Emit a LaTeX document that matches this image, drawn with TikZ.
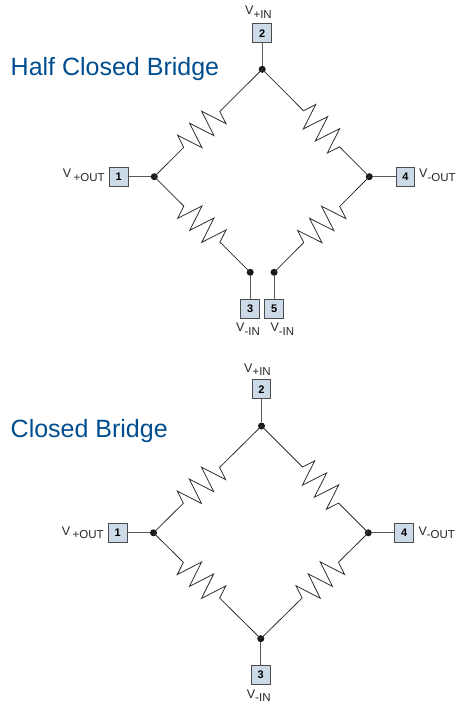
\documentclass[tikz,border=0pt]{standalone}
\usepackage{fontspec}
\setmainfont{Liberation Sans}
\usetikzlibrary{decorations.pathmorphing}
\definecolor{titleblue}{HTML}{004E8F}
\definecolor{boxblue}{HTML}{CDDBE9}
\definecolor{wiregray}{HTML}{2E2E2E}
\newcommand{\vsub}[1]{V\raisebox{-3.6pt}{\fontsize{11.5}{12}\selectfont #1}}
\tikzset{
  termbox/.style={draw=black!70,fill=boxblue,line width=1.1pt,minimum size=18.8pt,inner sep=0pt,font=\fontsize{11}{12}\selectfont\bfseries},
  jointdot/.style={circle,fill=black!90,minimum size=7pt,inner sep=0pt},
  voltlabel/.style={anchor=base west,inner sep=0pt,text=black!85,font=\fontsize{12.5}{14}\selectfont},
  titlelabel/.style={anchor=base west,inner sep=0pt,text=titleblue,font=\fontsize{25}{28}\selectfont},
  stub/.style={draw=black!65,line width=1.2pt},
  resistor/.style 2 args={draw=wiregray,line width=0.8pt,decorate,decoration={zigzag,segment length=17pt,amplitude=13pt,pre length=#1,post length=#2}},
  flipped/.style={decoration={mirror}}
}
\begin{document}
\begin{tikzpicture}[x=1pt,y=-1pt]
  \useasboundingbox (0,0) rectangle (466,708);
  % Half closed bridge
  \node[titlelabel] (halftitle) at (10.5,76) {Half Closed Bridge};
  \foreach \nm/\x/\y in {ht/262.2/69.3,hl/154.3/176.7,hr/369.3/176.7,hb/250.2/272.3,hc/274.1/272.3} {
    \node[jointdot] (\nm) at (\x,\y) {};
  }
  \foreach \nm/\x/\y/\num in {hbox1/118.8/176.7/1,hbox2/262.2/33.3/2,hbox3/250.2/308.7/3,hbox4/405.5/176.7/4,hbox5/274.1/308.7/5} {
    \node[termbox] (\nm) at (\x,\y) {\num};
  }
  \draw[stub] (hbox1) -- (hl);
  \draw[stub] (hbox2) -- (ht);
  \draw[stub] (hbox3) -- (hb);
  \draw[stub] (hbox4) -- (hr);
  \draw[stub] (hbox5) -- (hc);
  \draw[resistor={41.5pt}{58pt}] (hl.center) -- (ht.center);
  \draw[resistor={58.5pt}{41pt}] (ht.center) -- (hr.center);
  \draw[resistor={41.7pt}{41pt},flipped] (hl.center) -- (hb.center);
  \draw[resistor={42pt}{40.8pt}] (hc.center) -- (hr.center);
  \node[voltlabel] (hvin) at (245,15) {\vsub{+IN}};
  \node[voltlabel] (hvpout) at (62.7,178) {\vsub{\kern2.5pt+OUT}};
  \node[voltlabel] (hvmout) at (419,178) {\vsub{-OUT}};
  \node[voltlabel] (hvinl) at (236,331.5) {\vsub{-IN}};
  \node[voltlabel] (hvinr) at (270.3,331.5) {\vsub{-IN}};
  % Closed bridge
  \node[titlelabel] (closedtitle) at (10.5,437.7) {Closed Bridge};
  \foreach \nm/\x/\y in {ct/261.5/426,cl/153.5/532.8,cr/368.3/532.8,cb/260.8/638.7} {
    \node[jointdot] (\nm) at (\x,\y) {};
  }
  \foreach \nm/\x/\y/\num in {cbox1/117.7/532.8/1,cbox2/261.5/389.3/2,cbox3/260.8/675/3,cbox4/404.3/532.8/4} {
    \node[termbox] (\nm) at (\x,\y) {\num};
  }
  \draw[stub] (cbox1) -- (cl);
  \draw[stub] (cbox2) -- (ct);
  \draw[stub] (cbox3) -- (cb);
  \draw[stub] (cbox4) -- (cr);
  \draw[resistor={42pt}{58pt}] (cl.center) -- (ct.center);
  \draw[resistor={58pt}{41pt}] (ct.center) -- (cr.center);
  \draw[resistor={42pt}{57.5pt},flipped] (cl.center) -- (cb.center);
  \draw[resistor={58pt}{41pt}] (cb.center) -- (cr.center);
  \node[voltlabel] (cvin) at (244,372) {\vsub{+IN}};
  \node[voltlabel] (cvpout) at (61.7,535) {\vsub{\kern2.5pt+OUT}};
  \node[voltlabel] (cvmout) at (418.3,535) {\vsub{-OUT}};
  \node[voltlabel] (cvmin) at (246.7,698) {\vsub{-IN}};
\end{tikzpicture}
\end{document}
